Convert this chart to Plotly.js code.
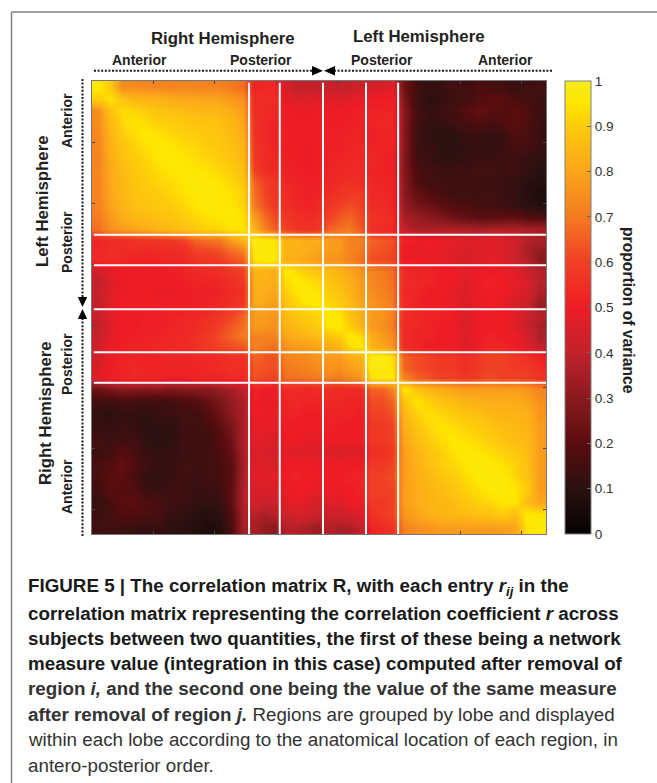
<!DOCTYPE html>
<html><head><meta charset="utf-8">
<script src="https://cdn.plot.ly/plotly-3.0.1.min.js"></script>
<style>html,body{margin:0;padding:0;background:#fff}</style></head>
<body><div id="chart" style="width:657px;height:783px"></div>
<script>
// Region-block edges along each axis (region number; white separators fall on some of them)
const xEdges=[0,1.97,3.94,5.91,7.88,9.85,11.82,13.79,15.76,17.73,19.7,21.67,23.64,25.6,27.27,28.93,30.6,32.36,34.12,35.89,37.65,39.4,41.15,42.91,44.66,46.41,48.15,49.9,51.9,53.9,55.9,57.9,59.9,61.9,63.9,65.9,67.9,69.9,71.9,74];
const yEdges=[0,1.93,3.86,5.79,7.72,9.65,11.58,13.51,15.44,17.37,19.3,21.23,23.17,25.1,26.77,28.43,30.1,31.9,33.7,35.5,37.3,39.05,40.8,42.55,44.3,45.97,47.63,49.3,51.35,53.4,55.45,57.5,59.55,61.6,63.65,65.7,67.75,69.8,71.9,74];
const xSeparators=[25.6,30.6,37.65,44.66,49.9];
const ySeparators=[25.1,30.1,37.3,44.3,49.3];
const axisTicks=[10,20,30,40,50,60,70];
const colorbarTicks=[0,0.1,0.2,0.3,0.4,0.5,0.6,0.7,0.8,0.9,1];
// Upper triangle of the symmetric matrix, percent of variance, block by block
const upper=[
[96,90,74,74,73,73,72,73,72,72,72,70,68,52,53,53,44,40,41,40,42,40,41,43,44,45,47,24,15,12,13,15,14,17,16,15,13,14,15],
[94,88,85,84,83,82,81,81,80,80,77,75,54,55,54,48,46,47,47,47,46,47,49,50,50,51,27,14,10,12,14,15,18,20,20,16,16,14],
[93,92,90,88,87,86,85,85,84,82,78,54,54,53,50,49,49,50,50,50,50,51,52,52,52,30,16,12,14,15,19,22,20,19,20,18,14],
[95,93,91,90,89,88,88,87,85,80,56,54,52,50,50,50,50,50,50,51,52,52,53,53,30,15,12,12,14,16,18,16,18,20,18,13],
[96,94,92,91,90,89,88,86,82,56,53,52,51,50,50,50,51,51,52,52,51,52,52,29,14,11,10,11,13,14,12,14,18,17,12],
[96,95,93,92,90,89,87,84,57,54,52,50,50,49,50,51,51,52,53,52,52,52,30,14,13,11,10,12,12,11,13,16,16,13],
[96,95,93,92,90,88,85,58,54,53,51,50,49,50,52,52,53,53,53,52,51,28,15,13,11,11,12,13,13,14,14,12,11],
[96,95,94,92,90,87,60,55,53,52,51,50,50,52,53,53,54,52,52,51,29,17,15,14,14,14,15,15,14,14,12,10],
[97,96,95,92,89,66,60,56,53,52,51,51,53,54,55,55,53,52,52,30,18,15,14,14,14,14,13,13,12,10,9],
[97,96,94,91,68,61,57,54,52,51,52,54,56,58,58,53,53,52,30,22,18,16,14,14,14,15,13,12,9,7],
[96,95,92,70,63,58,55,53,52,53,57,59,62,60,54,54,52,32,26,24,20,18,17,16,15,14,12,10,8],
[96,94,78,68,62,58,55,54,55,60,64,66,62,56,55,54,35,32,30,27,24,22,20,20,21,21,18,17],
[95,84,72,65,60,57,56,57,66,68,70,64,55,54,53,40,36,36,36,37,36,35,36,37,37,36,35],
[97,97,95,84,84,82,82,78,78,72,72,66,64,63,52,50,50,49,48,46,47,48,46,44,38,36],
[97,96,84,83,82,80,78,77,72,70,64,63,61,50,48,50,48,47,45,46,47,45,42,36,32],
[96,82,82,80,78,76,75,72,68,62,62,60,50,50,48,48,46,44,46,48,46,42,38,30],
[96,93,90,88,86,84,80,76,72,70,68,54,52,52,50,50,48,50,50,49,47,42,38],
[97,94,92,88,86,82,78,73,71,68,54,53,52,50,50,46,50,52,50,48,45,38],
[97,95,90,88,84,78,74,72,69,53,52,50,50,48,46,50,50,50,47,44,36],
[96,92,90,86,80,76,74,70,54,52,50,50,48,46,48,50,48,44,42,33],
[97,95,88,82,78,76,72,55,53,52,52,50,46,50,50,50,48,42,38],
[97,90,84,77,75,70,54,53,52,50,50,45,50,50,50,46,42,36],
[96,93,82,78,74,54,52,52,50,50,46,50,52,50,50,44,36],
[96,84,80,76,54,52,50,50,50,46,50,52,52,50,46,40],
[98,98,94,66,62,60,58,58,55,58,60,60,58,56,52],
[98,95,66,62,60,58,58,55,58,60,60,58,58,54],
[96,72,66,63,60,60,58,60,62,60,60,60,56],
[96,88,84,82,80,78,78,78,78,78,76,72],
[95,91,88,86,84,83,82,82,82,80,75],
[94,92,90,88,87,85,84,84,83,76],
[95,93,91,90,88,86,85,84,78],
[96,94,92,90,88,86,85,78],
[96,95,93,91,89,86,78],
[97,96,94,91,87,78],
[97,96,92,88,78],
[97,95,90,78],
[95,86,80],
[96,95],
[97]
];
const captionLines=[
"<b>FIGURE 5 | The correlation matrix R, with each entry <i>r<sub>ij</sub></i> in the</b>",
"<b>correlation matrix representing the correlation coefficient <i>r</i> across</b>",
"<b>subjects between two quantities, the first of these being a network</b>",
"<b>measure value (integration in this case) computed after removal of</b>",
"<b>region <i>i,</i> and the second one being the value of the same measure</b>",
"<b>after removal of region <i>j.</i></b> Regions are grouped by lobe and displayed",
"within each lobe according to the anatomical location of each region, in",
"antero-posterior order."];
const captionY=[587,613,638,663,688,714,739,765];

const n=upper.length;
const z=[];
for(let i=0;i<n;i++){z.push([]);for(let j=0;j<n;j++){z[i].push((j>=i?upper[i][j-i]:upper[j][i-j])/100);}}

const W=657,H=783,L=92,T=81,PW=454,PH=453;
const fx=p=>(p-L)/PW, fy=p=>1-(p-T)/PH;
const FONT="Liberation Sans",INK="#231f20";
const cs=[[0,"#050303"],[0.1,"#2a1010"],[0.2,"#5a0d0f"],[0.3,"#8a1a1e"],[0.4,"#c1222b"],[0.5,"#ee1c25"],[0.6,"#f04024"],[0.7,"#f47a20"],[0.8,"#fba51a"],[0.9,"#fecb0c"],[0.95,"#ffe600"],[1,"#f7ec1a"]];

const shapes=[];
const sep={color:"#ffffff",width:2};
xSeparators.forEach(v=>shapes.push({type:"line",xref:"x",yref:"y",x0:v,x1:v,y0:0.3,y1:74,line:sep}));
ySeparators.forEach(v=>shapes.push({type:"line",xref:"x",yref:"y",x0:0.3,x1:74,y0:v,y1:v,line:sep}));
const pl=(x0,y0,x1,y1,line)=>shapes.push({type:"line",xref:"paper",yref:"paper",x0:fx(x0),x1:fx(x1),y0:fy(y0),y1:fy(y1),line});
const tri=(pts)=>shapes.push({type:"path",xref:"paper",yref:"paper",fillcolor:"#000",line:{width:0},
  path:"M"+pts.map(q=>fx(q[0])+","+fy(q[1])).join("L")+"Z"});
// panel rule
pl(11.5,12,11.5,783,{color:"#7f7f7f",width:1.5});
pl(11.5,12,657,12,{color:"#7f7f7f",width:1.5});
// hemisphere arrows
const dots={color:"#1a1a1a",width:2,dash:"2px,1.6px"};
pl(94,70.7,313,70.7,dots); pl(334,70.7,553,70.7,dots);
pl(82.5,79,82.5,298,dots); pl(82.5,318,82.5,537,dots);
tri([[312,66],[323,70.7],[312,75.4]]); tri([[335,66],[324,70.7],[335,75.4]]);
tri([[77.8,297],[82.5,307],[87.2,297]]); tri([[77.8,319],[82.5,309],[87.2,319]]);
// colorbar left-hand ticks
colorbarTicks.slice(1,-1).forEach(v=>pl(565,534-453*v,569,534-453*v,{color:"#666",width:1}));

const ann=(text,x,y,size,angle,extra)=>Object.assign({text,xref:"paper",yref:"paper",x:fx(x),y:fy(y),showarrow:false,
  xanchor:"center",yanchor:"middle",textangle:angle||0,font:{family:FONT,size,color:INK}},extra||{});
const annotations=[
 ann("<b>Right Hemisphere</b>",223,39,16.8),
 ann("<b>Left Hemisphere</b>",419,36.5,16.8),
 ann("<b>Anterior</b>",139,60,14),
 ann("<b>Posterior</b>",261,60,14),
 ann("<b>Posterior</b>",382,60,14),
 ann("<b>Anterior</b>",505,60,14),
 ann("<b>Left Hemisphere</b>",42,201,16.8,-90),
 ann("<b>Right Hemisphere</b>",45,413,16.8,-90),
 ann("<b>Anterior</b>",67,121,14,-90),
 ann("<b>Posterior</b>",67,242,14,-90),
 ann("<b>Posterior</b>",67,364,14,-90),
 ann("<b>Anterior</b>",67,487,14,-90),
 ann("<b>proportion of variance</b>",629,310,15.7,90)
];
captionLines.forEach((t,i)=>annotations.push(ann(t,26,captionY[i],18.8,0,{xanchor:"left",
  font:{family:"Liberation Sans Narrow, Liberation Sans",size:18.8,color:i<4?"#1a1a1a":"#333"}})));

const axis={ticks:"inside",ticklen:3,tickcolor:"#444",tickvals:axisTicks,showticklabels:false,showgrid:false,zeroline:false,
  showline:true,linecolor:"#777",linewidth:1,mirror:"allticks"};
Plotly.newPlot("chart",[{type:"heatmap",x:xEdges,y:yEdges,z:z,zmin:0,zmax:1,zsmooth:"best",colorscale:cs,hoverinfo:"skip",
  colorbar:{x:(565-L)/PW,xanchor:"left",xpad:0,ypad:0,y:0.5,yanchor:"middle",len:1,lenmode:"fraction",thickness:26,thicknessmode:"pixels",
   outlinecolor:"#808080",outlinewidth:1,tickvals:colorbarTicks,ticktext:colorbarTicks.map(String),ticks:"inside",ticklen:4,tickcolor:"#666",
   tickfont:{family:FONT,size:13.5,color:"#333"}}}],
 {width:W,height:H,autosize:false,margin:{l:L,t:T,r:W-L-PW,b:H-T-PH},paper_bgcolor:"#fff",plot_bgcolor:"#fff",
  xaxis:Object.assign({range:[0,74]},axis),yaxis:Object.assign({range:[74,0]},axis),shapes,annotations},
 {displayModeBar:false,staticPlot:true});
</script></body></html>
